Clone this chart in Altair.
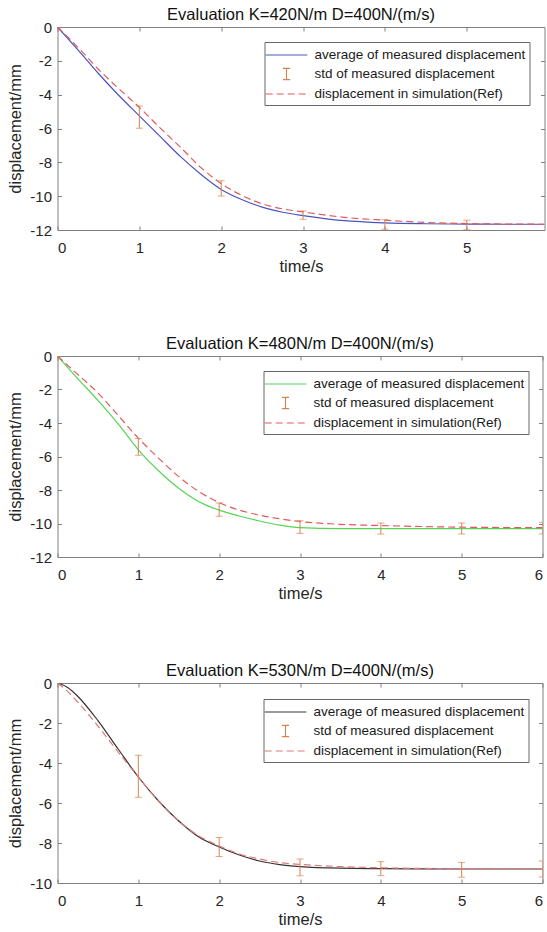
import altair as alt
import pandas as pd

FONT = "Liberation Sans"

AVG = "average of measured displacement"
STD = "std of measured displacement"
SIM = "displacement in simulation(Ref)"

# ---- panel 1 : K=420 ----
T1 = [0, 0.25, 0.5, 0.75, 1, 1.25, 1.5, 1.75, 2, 2.25, 2.5, 2.75, 3, 3.5, 4, 4.5, 5, 5.5, 5.95]
AVG1 = [0, -1.35, -2.75, -4.05, -5.25, -6.45, -7.65, -8.7, -9.6, -10.2, -10.65, -10.95, -11.15, -11.45, -11.58, -11.63, -11.65, -11.66, -11.66]
SIM1 = [0, -1.2, -2.5, -3.65, -4.75, -5.95, -7.1, -8.3, -9.25, -9.95, -10.45, -10.75, -10.93, -11.25, -11.42, -11.55, -11.62, -11.65, -11.66]
ET1 = [0, 1, 2, 3, 4, 5]
EM1 = [0, -5.33, -9.54, -11.12, -11.67, -11.70]
ES1 = [0.05, 0.66, 0.45, 0.25, 0.28, 0.28]

# ---- panel 2 : K=480 ----
T2 = [0, 0.25, 0.5, 0.75, 1, 1.25, 1.5, 1.75, 2, 2.25, 2.5, 2.75, 3, 3.5, 4, 4.5, 5, 5.5, 6]
AVG2 = [0, -1.35, -2.65, -4.05, -5.6, -6.85, -7.9, -8.7, -9.2, -9.55, -9.85, -10.1, -10.25, -10.3, -10.3, -10.3, -10.3, -10.3, -10.3]
SIM2 = [0, -1.1, -2.2, -3.55, -4.9, -6.1, -7.2, -8.1, -8.75, -9.2, -9.5, -9.72, -9.88, -10.05, -10.12, -10.18, -10.22, -10.24, -10.25]
ET2 = [0, 1, 2, 3, 4, 5, 6]
EM2 = [0, -5.42, -9.17, -10.21, -10.3, -10.3, -10.28]
ES2 = [0.05, 0.5, 0.4, 0.38, 0.33, 0.33, 0.35]

# ---- panel 3 : K=530 ----
T3 = [0, 0.125, 0.25, 0.5, 0.75, 1, 1.25, 1.5, 1.75, 2, 2.25, 2.5, 2.75, 3, 3.5, 4, 4.5, 5, 5.5, 6]
AVG3 = [0, -0.22, -0.66, -1.88, -3.3, -4.7, -5.9, -6.9, -7.7, -8.2, -8.6, -8.9, -9.08, -9.18, -9.26, -9.28, -9.29, -9.3, -9.3, -9.3]
SIM3 = [0, -0.42, -0.95, -2.15, -3.45, -4.7, -5.9, -6.9, -7.65, -8.15, -8.55, -8.8, -8.98, -9.07, -9.18, -9.24, -9.27, -9.28, -9.29, -9.3]
ET3 = [0, 1, 2, 3, 4, 5, 6]
EM3 = [0, -4.66, -8.2, -9.22, -9.28, -9.34, -9.3]
ES3 = [0.05, 1.05, 0.48, 0.42, 0.35, 0.37, 0.4]

TITLES = ["Evaluation K=420N/m D=400N/(m/s)",
          "Evaluation K=480N/m D=400N/(m/s)",
          "Evaluation K=530N/m D=400N/(m/s)"]
COLORS = [["#4b55c2", "#d9824f", "#e05a5a"],
          ["#55d455", "#d9824f", "#e05a5a"],
          ["#3a3232", "#d9824f", "#dd7a7a"]]

LINE_PATH = "M-2.6,0H2.6"
IBEAM_PATH = "M-0.45,-0.7H0.45M0,-0.7V0.7M-0.45,0.7H0.45"
GRAY = "#808080"
TXT = "#262626"


def make_legend(lx, ly):
    return alt.Legend(
        title=None, orient="none", legendX=lx, legendY=ly,
        fillColor="white", strokeColor="#666666", padding=4, cornerRadius=0,
        labelFont=FONT, labelFontSize=13.5, labelColor="#1a1a1a", labelLimit=400,
        symbolSize=256, symbolOffset=9, labelOffset=19, rowPadding=3,
        symbolStrokeWidth=1.1,
        symbolType={"expr": f"datum.value == '{STD}' ? '{IBEAM_PATH}' : '{LINE_PATH}'"},
        symbolDash={"expr": f"datum.value == '{SIM}' ? [7, 4] : [1, 0]"},
    )


def panel(title, t, avg, sim, et, em, es, colors, ymin, yvals, xmax, xvals, w, h, lx, ly):
    avg_df = pd.DataFrame({"t": t, "v": avg, "series": [AVG] * len(avg)})
    sim_df = pd.DataFrame({"t": t, "v": sim, "series": [SIM] * len(sim)})
    err = pd.DataFrame({"t": et,
                        "lo": [m - s for m, s in zip(em, es)],
                        "hi": [m + s for m, s in zip(em, es)],
                        "series": [STD] * len(et)})
    caps = pd.DataFrame({"t": et + et,
                         "v": list(err["lo"]) + list(err["hi"]),
                         "series": [STD] * (2 * len(et))})
    xs = alt.Scale(domain=[0, xmax], nice=False, zero=False)
    ys = alt.Scale(domain=[ymin, 0], nice=False, zero=False)
    cscale = alt.Scale(domain=[AVG, STD, SIM], range=colors)
    color_leg = alt.Color("series:N", scale=cscale, legend=make_legend(lx, ly))
    color = alt.Color("series:N", scale=cscale, legend=None)

    x_bottom = alt.Axis(values=xvals, title="time/s", domain=False, offset=-4, tickSize=4,
                        labelPadding=10, titlePadding=3, grid=False)
    y_left = alt.Axis(values=yvals, title="displacement/mm", domain=False, offset=-4, tickSize=4,
                      labelPadding=6, titlePadding=6, grid=False, labelExpr="'' + datum.value")
    x_top = alt.Axis(values=xvals, orient="top", title=None, labels=False, domain=False,
                     offset=-4, tickSize=4, grid=False)
    y_right = alt.Axis(values=yvals, orient="right", title=None, labels=False, domain=False,
                       offset=-4, tickSize=4, grid=False)

    avg_layer = alt.Chart(avg_df).mark_line(strokeWidth=1.2, interpolate="monotone", clip=True).encode(
        x=alt.X("t:Q", scale=xs, axis=x_bottom),
        y=alt.Y("v:Q", scale=ys, axis=y_left),
        color=color_leg,
    )
    sim_layer = alt.Chart(sim_df).mark_line(strokeWidth=1.2, interpolate="monotone", clip=True,
                                            strokeDash=[7, 4]).encode(
        x=alt.X("t:Q", scale=xs, axis=None),
        y=alt.Y("v:Q", scale=ys, axis=None),
        color=color,
    )
    rule_layer = alt.Chart(err).mark_rule(strokeWidth=1, clip=True).encode(
        x=alt.X("t:Q", scale=xs, axis=None),
        y=alt.Y("lo:Q", scale=ys, axis=None),
        y2="hi:Q",
        color=color,
    )
    cap_layer = alt.Chart(caps).mark_tick(orient="horizontal", size=7, thickness=1, clip=True).encode(
        x=alt.X("t:Q", scale=xs, axis=x_top),
        y=alt.Y("v:Q", scale=ys, axis=y_right),
        color=color,
    )
    return alt.layer(avg_layer, sim_layer, rule_layer, cap_layer).resolve_axis(
        x="independent", y="independent"
    ).properties(
        width=w, height=h,
        title=alt.TitleParams(title, font=FONT, fontSize=16.5, fontWeight="normal", color="#111111",
                              offset=3, dy=6),
    )


p1 = panel(TITLES[0], T1, AVG1, SIM1, ET1, EM1, ES1, COLORS[0], -12, [0, -2, -4, -6, -8, -10, -12],
           5.95, [0, 1, 2, 3, 4, 5], 487, 203, 207, 15)
p2 = panel(TITLES[1], T2, AVG2, SIM2, ET2, EM2, ES2, COLORS[1], -12, [0, -2, -4, -6, -8, -10, -12],
           6, [0, 1, 2, 3, 4, 5, 6], 485, 201, 206, 15)
p3 = panel(TITLES[2], T3, AVG3, SIM3, ET3, EM3, ES3, COLORS[2], -10, [0, -2, -4, -6, -8, -10],
           6, [0, 1, 2, 3, 4, 5, 6], 485, 200, 206, 16)

chart = alt.vconcat(p1, p2, p3, spacing=60).resolve_scale(
    color="independent", x="independent", y="independent"
).resolve_legend(color="independent").properties(
    background="white",
    autosize=alt.AutoSizeParams(type="none"),
    padding={"left": 57.5, "top": 27, "right": 489.5, "bottom": 905},
).configure_view(
    stroke=GRAY, strokeWidth=1
).configure_axis(
    tickColor=GRAY, labelFont=FONT, labelFontSize=15, labelColor=TXT,
    titleFont=FONT, titleFontSize=16.5, titleFontWeight="normal", titleColor=TXT,
)

chart.save("out.html", embed_options={"renderer": "svg", "actions": False})
